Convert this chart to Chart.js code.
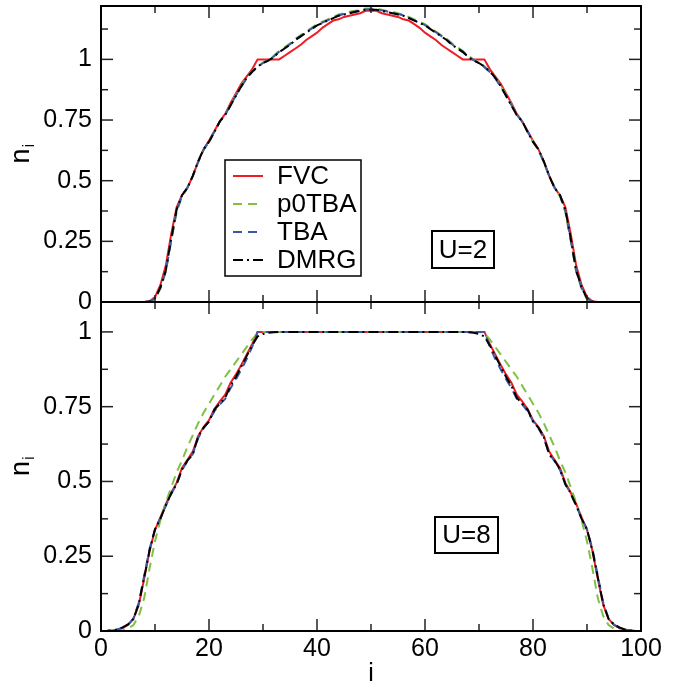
<!DOCTYPE html>
<html><head><meta charset="utf-8">
<script src="https://cdn.jsdelivr.net/npm/chart.js@4"></script>
<style>
html,body{margin:0;padding:0;background:#fff;overflow:hidden}
#wrap{position:relative;width:674px;height:681px;background:#fff}
canvas{position:absolute;left:0}
#c1{top:0}
#c2{top:290px}
</style></head><body>
<div id="wrap"><canvas id="c1" width="674" height="330"></canvas><canvas id="c2" width="674" height="391"></canvas></div>
<script>
// ---------- data ----------
const sites = [0,1,2,3,4,5,6,7,8,9,10,11,12,13,14,15,16,17,18,19,20,21,22,23,24,25,26,27,28,29,30,31,32,33,34,35,36,37,38,39,40,41,42,43,44,45,46,47,48,49,50,51,52,53,54,55,56,57,58,59,60,61,62,63,64,65,66,67,68,69,70,71,72,73,74,75,76,77,78,79,80,81,82,83,84,85,86,87,88,89,90,91,92,93,94,95,96,97,98,99,100];
const seriesNames = ['FVC','p0TBA','TBA','DMRG'];
const panelLabels = ['U=2','U=8'];
const xTickValues = [0,20,40,60,80,100];
const xMinorValues = [10,30,50,70,90];
const yTickValues = [0,0.25,0.5,0.75,1];
const yMinorTop = [0.125,0.375,0.625,0.875,1.125];
const yMinorBottom = [0.125,0.375,0.625,0.875];
const yMaxTop = 1.22;
const yMaxBottom = 1.1;

// U=2 (top panel)
const fvcU2 = [0,0,0,0,0,0,0,0,0,0.003,
 0.02,0.07,0.15,0.28,0.39,0.44,0.47,0.52,0.58,0.63,
 0.665,0.705,0.745,0.775,0.82,0.86,0.90,0.93,0.96,1.0,
 1.0,1.0,1.0,1.0,1.015,1.03,1.045,1.06,1.08,1.095,
 1.11,1.13,1.145,1.16,1.165,1.175,1.18,1.185,1.19,1.2,
 1.2,
 1.2,1.19,1.185,1.18,1.175,1.165,1.16,1.145,1.13,1.11,
 1.095,1.08,1.06,1.045,1.03,1.015,1.0,1.0,1.0,1.0,
 1.0,0.96,0.93,0.90,0.86,0.82,0.775,0.745,0.705,0.665,
 0.63,0.58,0.52,0.47,0.44,0.39,0.28,0.15,0.07,0.02,
 0.003,0,0,0,0,0,0,0,0,0];
const p0tbaU2 = [0,0,0,0,0,0,0,0,0,0.001,
 0.012,0.055,0.125,0.25,0.37,0.435,0.47,0.518,0.576,0.626,
 0.66,0.702,0.744,0.773,0.814,0.855,0.892,0.927,0.952,0.972,
 0.988,1.0,1.015,1.035,1.05,1.066,1.085,1.1,1.115,1.13,
 1.145,1.155,1.165,1.175,1.185,1.19,1.196,1.2,1.205,1.21,
 1.21,
 1.21,1.205,1.2,1.196,1.19,1.185,1.175,1.165,1.155,1.145,
 1.13,1.115,1.1,1.085,1.066,1.05,1.035,1.015,1.0,0.988,
 0.972,0.952,0.927,0.892,0.855,0.814,0.773,0.744,0.702,0.66,
 0.626,0.576,0.518,0.47,0.435,0.37,0.25,0.125,0.055,0.012,
 0.001,0,0,0,0,0,0,0,0,0];
const tbaU2 = [0,0,0,0,0,0,0,0,0,0.002,
 0.014,0.058,0.128,0.255,0.375,0.44,0.472,0.52,0.578,0.628,
 0.662,0.703,0.743,0.772,0.812,0.852,0.888,0.922,0.948,0.968,
 0.985,0.997,1.012,1.032,1.047,1.062,1.082,1.097,1.112,1.127,
 1.141,1.152,1.162,1.172,1.181,1.187,1.192,1.197,1.202,1.206,
 1.207,
 1.206,1.202,1.197,1.192,1.187,1.181,1.172,1.162,1.152,1.141,
 1.127,1.112,1.097,1.082,1.062,1.047,1.032,1.012,0.997,0.985,
 0.968,0.948,0.922,0.888,0.852,0.812,0.772,0.743,0.703,0.662,
 0.628,0.578,0.52,0.472,0.44,0.375,0.255,0.128,0.058,0.014,
 0.002,0,0,0,0,0,0,0,0,0];
const dmrgU2 = [0,0,0,0,0,0,0,0,0,0.002,
 0.015,0.06,0.13,0.26,0.38,0.44,0.47,0.52,0.58,0.63,
 0.66,0.70,0.745,0.77,0.81,0.85,0.89,0.925,0.95,0.97,
 0.985,0.995,1.01,1.03,1.045,1.06,1.08,1.095,1.11,1.125,
 1.14,1.15,1.16,1.17,1.18,1.185,1.19,1.195,1.20,1.205,
 1.205,
 1.205,1.20,1.195,1.19,1.185,1.18,1.17,1.16,1.15,1.14,
 1.125,1.11,1.095,1.08,1.06,1.045,1.03,1.01,0.995,0.985,
 0.97,0.95,0.925,0.89,0.85,0.81,0.77,0.745,0.70,0.66,
 0.63,0.58,0.52,0.47,0.44,0.38,0.26,0.13,0.06,0.015,
 0.002,0,0,0,0,0,0,0,0,0];

// U=8 (bottom panel)
const fvcU8 = [0,0,0.002,0.004,0.01,0.02,0.04,0.088,0.175,0.268,
 0.338,0.38,0.425,0.462,0.495,0.545,0.572,0.6,0.652,0.682,
 0.705,0.742,0.768,0.79,0.83,0.858,0.89,0.925,0.96,1.0,
 1,1,1,1,1,1,1,1,1,1,
 1,1,1,1,1,1,1,1,1,1,
 1,
 1,1,1,1,1,1,1,1,1,1,
 1,1,1,1,1,1,1,1,1,1,
 1.0,0.96,0.925,0.89,0.858,0.83,0.79,0.768,0.742,0.705,
 0.682,0.652,0.6,0.572,0.545,0.495,0.462,0.425,0.38,0.338,
 0.268,0.175,0.088,0.04,0.02,0.01,0.004,0.002,0,0];
const p0tbaU8 = [0,0,0,0,0.002,0.008,0.02,0.05,0.11,0.21,
 0.30,0.37,0.43,0.48,0.53,0.57,0.615,0.655,0.695,0.73,
 0.76,0.79,0.82,0.85,0.875,0.90,0.925,0.95,0.975,0.995,
 1,1,1,1,1,1,1,1,1,1,
 1,1,1,1,1,1,1,1,1,1,
 1,
 1,1,1,1,1,1,1,1,1,1,
 1,1,1,1,1,1,1,1,1,1,
 0.995,0.975,0.95,0.925,0.90,0.875,0.85,0.82,0.79,0.76,
 0.73,0.695,0.655,0.615,0.57,0.53,0.48,0.43,0.37,0.30,
 0.21,0.11,0.05,0.02,0.008,0.002,0,0,0,0];
const tbaU8 = [0,0,0.002,0.005,0.011,0.021,0.042,0.095,0.185,0.275,
 0.34,0.378,0.418,0.458,0.492,0.538,0.568,0.592,0.645,0.678,
 0.702,0.735,0.758,0.776,0.812,0.842,0.875,0.91,0.95,1.0,
 1,1,1,1,1,1,1,1,1,1,
 1,1,1,1,1,1,1,1,1,1,
 1,
 1,1,1,1,1,1,1,1,1,1,
 1,1,1,1,1,1,1,1,1,1,
 1.0,0.95,0.91,0.875,0.842,0.812,0.776,0.758,0.735,0.702,
 0.678,0.645,0.592,0.568,0.538,0.492,0.458,0.418,0.378,0.34,
 0.275,0.185,0.095,0.042,0.021,0.011,0.005,0.002,0,0];
const dmrgU8 = [0,0,0.002,0.005,0.012,0.022,0.04,0.09,0.18,0.27,
 0.34,0.375,0.42,0.46,0.49,0.54,0.57,0.59,0.65,0.68,
 0.70,0.74,0.76,0.78,0.82,0.85,0.885,0.92,0.955,0.985,
 0.993,0.997,0.999,1,1,1,1,1,1,1,
 1,1,1,1,1,1,1,1,1,1,
 1,
 1,1,1,1,1,1,1,1,1,1,
 1,1,1,1,1,1,1,0.999,0.997,0.993,
 0.985,0.955,0.92,0.885,0.85,0.82,0.78,0.76,0.74,0.70,
 0.68,0.65,0.59,0.57,0.54,0.49,0.46,0.42,0.375,0.34,
 0.27,0.18,0.09,0.04,0.022,0.012,0.005,0.002,0,0];

// ---------- styles ----------
const FONT = '"Liberation Sans", Arial, Helvetica, sans-serif';
const styles = [
  {color:'#ee1c25', dash:[], order:3},
  {color:'#7dc242', dash:[9,6], order:2},
  {color:'#3a58a8', dash:[9,6], order:1},
  {color:'#000000', dash:[10,4,2,4], order:0}
];

function pts(arr){ return sites.map((x,k)=>({x:x, y:arr[k]})); }
function makeDatasets(list){
  return list.map((arr,k)=>({
    label: seriesNames[k], data: pts(arr),
    borderColor: styles[k].color, borderDash: styles[k].dash, order: styles[k].order,
    borderWidth: 2, pointRadius: 0, tension: 0, fill: false
  }));
}

function framePlugin(cfg){
  return {
    id: 'frame'+cfg.id,
    afterDatasetsDraw(chart){
      const {ctx, chartArea:a, scales} = chart;
      const xs = scales.x, ys = scales.y;
      ctx.save();
      ctx.strokeStyle = '#222'; ctx.lineWidth = 1.5;
      const tick = (x1,y1,x2,y2)=>{ctx.beginPath();ctx.moveTo(x1,y1);ctx.lineTo(x2,y2);ctx.stroke();};
      const MJ = 12, MN = 7;
      xTickValues.forEach(v=>{const p=xs.getPixelForValue(v); tick(p,a.bottom,p,a.bottom-MJ); tick(p,a.top,p,a.top+MJ);});
      xMinorValues.forEach(v=>{const p=xs.getPixelForValue(v); tick(p,a.bottom,p,a.bottom-MN); tick(p,a.top,p,a.top+MN);});
      yTickValues.forEach(v=>{const p=ys.getPixelForValue(v); tick(a.left,p,a.left+MJ,p); tick(a.right,p,a.right-MJ,p);});
      cfg.yMinor.forEach(v=>{const p=ys.getPixelForValue(v); tick(a.left,p,a.left+MN,p); tick(a.right,p,a.right-MN,p);});
      ctx.strokeStyle = '#000'; ctx.lineWidth = 2;
      ctx.strokeRect(a.left, a.top, a.right-a.left, a.bottom-a.top);
      // y title n_i
      ctx.fillStyle = '#000';
      ctx.translate(22, (a.top+a.bottom)/2);
      ctx.rotate(-Math.PI/2);
      ctx.font = '27px '+FONT;
      const wn = ctx.measureText('n').width;
      ctx.font = '17px '+FONT;
      const wi = ctx.measureText('i').width;
      const sx = -(wn+wi)/2;
      ctx.textBaseline = 'alphabetic'; ctx.textAlign = 'left';
      ctx.font = '27px '+FONT; ctx.fillText('n', sx, 7);
      ctx.font = '17px '+FONT; ctx.fillText('i', sx+wn+1, 12);
      ctx.setTransform(1,0,0,1,0,0);
      // panel label box
      const b = cfg.box;
      ctx.strokeStyle = '#000'; ctx.lineWidth = 2;
      ctx.strokeRect(b.x, b.y, b.w, b.h);
      ctx.font = '26px '+FONT; ctx.textAlign='center'; ctx.textBaseline='middle';
      ctx.fillText(cfg.label, b.x+b.w/2, b.y+b.h/2+1);
      if (cfg.legend){
        const L = cfg.legend;
        ctx.fillStyle = '#fff';
        ctx.fillRect(L.x, L.y, L.w, L.h);
        ctx.strokeStyle = '#000'; ctx.lineWidth = 1.5;
        ctx.strokeRect(L.x, L.y, L.w, L.h);
        chart.data.datasets.forEach((ds,k)=>{
          const yy = L.y + 16 + k*28;
          ctx.strokeStyle = ds.borderColor; ctx.lineWidth = 2;
          ctx.setLineDash(ds.borderDash||[]);
          ctx.beginPath(); ctx.moveTo(L.x+8, yy); ctx.lineTo(L.x+38, yy); ctx.stroke();
          ctx.setLineDash([]);
          ctx.fillStyle = '#000'; ctx.font = '26px '+FONT;
          ctx.textAlign = 'left'; ctx.textBaseline = 'middle';
          ctx.fillText(ds.label, L.x+52, yy+1);
        });
      }
      ctx.restore();
    }
  };
}

function makeChart(canvasId, cfg){
  const font = {family: FONT, size: 25};
  return new Chart(document.getElementById(canvasId), {
    type: 'line',
    data: {datasets: makeDatasets(cfg.data)},
    options: {
      responsive: false, animation: false, events: [],
      layout: {padding: cfg.padding},
      plugins: {legend: {display: false}, tooltip: {enabled: false}},
      scales: {
        x: {
          type: 'linear', min: 0, max: 100, display: cfg.showX,
          afterFit(s){ s.height = cfg.showX ? 50 : 0; s.paddingLeft = 0; s.paddingRight = 0; },
          afterBuildTicks(s){ s.ticks = xTickValues.map(v=>({value:v})); },
          grid: {display: false, drawTicks: false}, border: {display: false},
          ticks: {font: font, color: '#000', padding: 3, maxRotation: 0, autoSkip: false, callback: v => String(v)},
          title: {display: true, text: 'i', font: font, color: '#000', padding: {top: 0, bottom: -8}}
        },
        y: {
          type: 'linear', min: 0, max: cfg.ymax,
          afterFit(s){ s.width = 101; s.paddingTop = 0; s.paddingBottom = 0; },
          afterBuildTicks(s){ s.ticks = yTickValues.map(v=>({value:v})); },
          grid: {display: false, drawTicks: false}, border: {display: false},
          ticks: {font: font, color: '#000', padding: 9, autoSkip: false, callback: v => String(v)}
        }
      }
    },
    plugins: [framePlugin(cfg)]
  });
}

makeChart('c1', {
  id: 1, data: [fvcU2, p0tbaU2, tbaU2, dmrgU2], ymax: yMaxTop, showX: false,
  padding: {left: 0, right: 33, top: 6, bottom: 28},
  yMinor: yMinorTop, label: panelLabels[0],
  box: {x: 432, y: 231, w: 62, h: 37},
  legend: {x: 225, y: 160, w: 136, h: 116}
});
makeChart('c2', {
  id: 2, data: [fvcU8, p0tbaU8, tbaU8, dmrgU8], ymax: yMaxBottom, showX: true,
  padding: {left: 0, right: 33, top: 12, bottom: 0},
  yMinor: yMinorBottom, label: panelLabels[1],
  box: {x: 435, y: 227, w: 63, h: 36},
  legend: null
});
</script>
</body></html>
